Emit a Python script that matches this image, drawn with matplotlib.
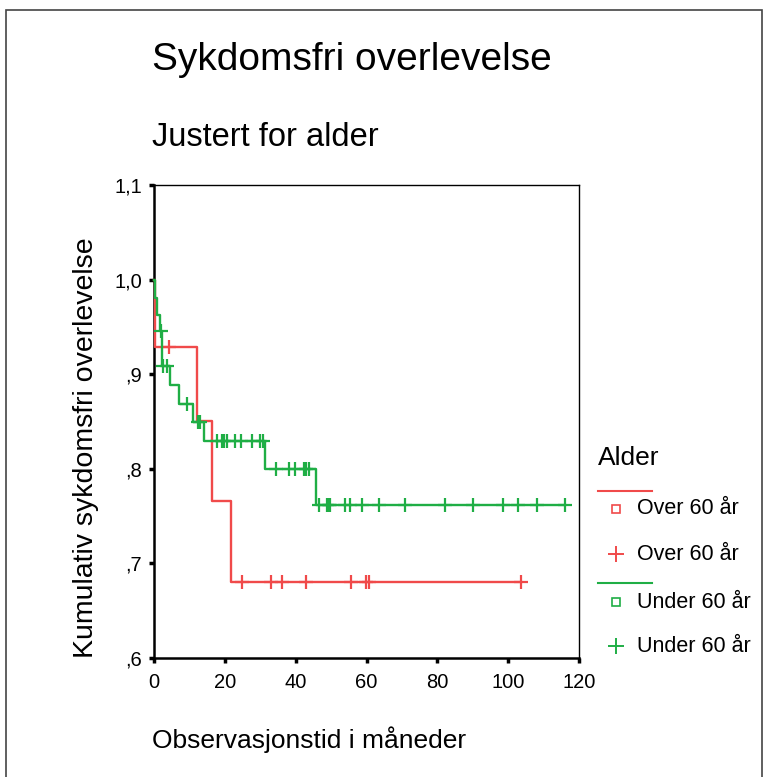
import numpy as np
import matplotlib
matplotlib.use("Agg")
import matplotlib.pyplot as plt
from matplotlib.lines import Line2D
from matplotlib.patches import Rectangle

plt.rcParams['font.family'] = ['Liberation Sans', 'DejaVu Sans']

# Kaplan-Meier trinn (tid i måneder, kumulativ overlevelse)
over_tid = [0, 0.2, 12.0, 16.3, 21.8]
over_surv = [1.0, 0.929, 0.851, 0.766, 0.680]
over_sensur = [4.2, 24.9, 32.9, 36.0, 42.8, 55.5, 59.9, 60.8, 103.6]

under_tid = [0, 0.3, 0.9, 1.8, 2.3, 4.4, 7.1, 10.9, 14.2, 31.2, 45.6]
under_surv = [1.0, 0.981, 0.963, 0.946, 0.909, 0.889, 0.869, 0.849, 0.829, 0.800, 0.762]
under_sensur = [2.0, 2.6, 3.7, 9.2, 12.4, 13.0, 17.7, 19.2, 19.8, 20.5, 23.0, 24.5,
                27.8, 29.9, 30.7, 34.4, 38.0, 39.7, 42.3, 43.0, 43.9, 46.6, 48.8,
                49.3, 49.8, 53.8, 55.2, 58.8, 63.4, 71.0, 82.2, 90.0, 98.4, 102.9,
                108.0, 116.0]

yticks = [0.6, 0.7, 0.8, 0.9, 1.0, 1.1]
ytick_labels = [',6', ',7', ',8', ',9', '1,0', '1,1']
xticks = [0, 20, 40, 60, 80, 100, 120]

rod = '#f04a4a'
gronn = '#1fae45'

W, H = 763, 777
fig = plt.figure(figsize=(W / 100, H / 100), dpi=100)
ax = fig.add_axes([154 / W, 1 - 658 / H, 425 / W, 473 / H])


def km_kurve(tid, surv, sensur, farge):
    tid = np.array(tid)
    surv = np.array(surv)
    sensur = np.array(sensur)
    slutt = sensur.max()
    ax.step(np.append(tid, slutt), np.append(surv, surv[-1]), where='post',
            color=farge, lw=1.7, clip_on=False, zorder=3)
    niva = surv[np.searchsorted(tid, sensur, side='right') - 1]
    ax.plot(sensur, niva, ls='none', marker='+', ms=10, mew=1.6,
            color=farge, clip_on=False, zorder=3)


km_kurve(over_tid, over_surv, over_sensur, rod)
km_kurve(under_tid, under_surv, under_sensur, gronn)

ax.set_xlim(0, 120)
ax.set_ylim(0.6, 1.1)
ax.set_xticks(xticks)
ax.set_xticklabels([str(x) for x in xticks])
ax.set_yticks(yticks)
ax.set_yticklabels(ytick_labels)
ax.tick_params(direction='out', length=3.5, width=2.5, labelsize=14.5, color='black')
ax.tick_params(axis='y', pad=5)
ax.tick_params(axis='x', pad=7)
for side in ['left', 'bottom']:
    ax.spines[side].set_linewidth(1.8)
for side in ['top', 'right']:
    ax.spines[side].set_linewidth(1.0)

# titler og aksetekster
fig.text(152 / W, 1 - 60 / H, 'Sykdomsfri overlevelse', fontsize=28,
         ha='left', va='center')
fig.text(152 / W, 1 - 137 / H, 'Justert for alder', fontsize=23.5,
         ha='left', va='center')
fig.text(86 / W, 1 - 448 / H, 'Kumulativ sykdomsfri overlevelse', fontsize=20.5,
         rotation=90, ha='center', va='center')
fig.text(152 / W, 1 - 740 / H, 'Observasjonstid i måneder', fontsize=19,
         ha='left', va='center')

# forklaring
fig.text(598 / W, 1 - 458 / H, 'Alder', fontsize=19, ha='left', va='center')
for farge, y0 in [(rod, 491), (gronn, 583)]:
    fig.add_artist(Line2D([598 / W, 652 / W], [1 - y0 / H, 1 - y0 / H],
                          color=farge, lw=1.5))
poster = [(rod, 's', 509, 'Over 60 år'), (rod, '+', 554, 'Over 60 år'),
          (gronn, 's', 602, 'Under 60 år'), (gronn, '+', 646, 'Under 60 år')]
for farge, mk, y0, tekst in poster:
    if mk == 's':
        fig.add_artist(Line2D([616 / W], [1 - y0 / H], ls='none', marker='s', ms=6,
                              mfc='none', mec=farge, mew=1.2))
    else:
        fig.add_artist(Line2D([616 / W], [1 - y0 / H], ls='none', marker='+', ms=11,
                              mec=farge, mew=1.4))
    fig.text(637 / W, 1 - y0 / H, tekst, fontsize=15.5, ha='left', va='center')

# ramme rundt hele figuren
fig.add_artist(Rectangle((6 / W, -0.01), 756 / W, 1.01 - 10 / H,
                         transform=fig.transFigure, fill=False,
                         edgecolor='#444444', lw=1.2))

fig.savefig('out.png', dpi=100)
